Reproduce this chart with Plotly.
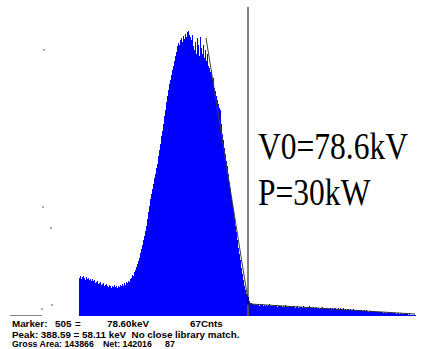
import plotly.graph_objects as go

# Spectrum counts per displayed bin (2 channels per bin), starting at channel 167
CHANNEL_START = 167
CHANNEL_STEP = 2
counts = [
    135,142,132,139,142,135,128,139,132,135,128,132,125,132,
    125,128,117,121,125,114,117,121,110,114,117,107,110,114,107,103,110,107,100,107,103,110,103,107,100,
    107,103,110,107,114,107,117,110,121,117,125,121,132,
    135,146,142,157,164,174,185,196,206,224,
    239,253,271,285,303,320,345,370,392,417,
    434,452,470,491,506,527,541,570,591,612,
    641,659,684,712,733,762,783,805,826,840,
    858,876,890,908,926,940,961,972,965,983,
    990,975,997,986,1004,993,1011,1015,1000,993,
    983,1000,961,947,975,933,990,965,926,993,
    954,933,965,918,947,908,933,890,883,869,
    876,840,847,812,801,783,769,755,740,733,
    684,648,627,598,577,552,534,506,477,456,
    427,399,374,349,320,299,271,242,221,199,
    171,150,128,107,93,78,71,67,53,46,
    48,44,41,40,43,39,38,41,37,40,
    38,42,36,39,37,40,35,38,41,36,
    37,35,39,34,36,38,33,37,35,34,
    36,33,35,32,38,34,33,31,35,32,
    34,31,33,36,30,32,34,29,33,31,
    32,30,34,29,31,33,28,30,37,29,
    30,28,31,29,27,32,28,30,26,29,
    28,31,27,29,26,28,30,25,28,27,
    26,29,25,27,28,24,26,28,23,27,
    25,24,27,23,26,22,25,24,21,24,
    23,21,24,22,20,23,21,19,22,20,
    21,19,18,21,17,20,18,16,19,17,
    18,16,15,17,14,16,15,13,15,14,
    13,15,12,14,12,11,13,11,12,10,
    11,10,12,9,10,8,10,9,8,9,
    8,7,8,6,7,6,7,5,6,5,
    5,4,4,3,2,
]
channels = [CHANNEL_START + CHANNEL_STEP * i for i in range(len(counts))]

marker_channel = 505
peak_fit_x = [421, 505]
peak_fit_y = [990, 57]
tail_fit_x = [507, 839]
tail_fit_y = [43, 7]
roi_x = [29, 93]
roi_y = [0, 0]
dots_x = [97, 95, 111, 93, 113]
dots_y = [947, 388, 313, 25, 39]

label_main = "V0=78.6kV"
label_power = "P=30kW"

fig = go.Figure()
fig.add_trace(go.Bar(x=channels, y=counts, width=CHANNEL_STEP,
                     marker=dict(color="#0000ff", line=dict(width=0)), hoverinfo="skip"))
fig.add_trace(go.Scatter(x=peak_fit_x, y=peak_fit_y, mode="lines",
                         line=dict(color="#404040", width=1)))
fig.add_trace(go.Scatter(x=tail_fit_x, y=tail_fit_y, mode="lines",
                         line=dict(color="#303030", width=1)))
fig.add_trace(go.Scatter(x=roi_x, y=roi_y, mode="lines",
                         line=dict(color="#606060", width=1.5)))
fig.add_trace(go.Scatter(x=dots_x, y=dots_y, mode="markers",
                         marker=dict(color="#909090", size=2)))

fig.add_shape(type="line", x0=marker_channel, x1=marker_channel, y0=0, y1=1,
              xref="x", yref="paper", line=dict(color="#000000", width=1))
fig.add_shape(type="line", x0=marker_channel, x1=marker_channel, y0=0, y1=40,
              xref="x", yref="y", line=dict(color="#c09030", width=1))

serif = "Liberation Serif, Times New Roman, serif"
fig.add_annotation(text=label_main, x=256/422, y=0.550, xref="paper", yref="paper",
                   xanchor="left", yanchor="middle", showarrow=False,
                   font=dict(family=serif, size=38, color="#000"))
fig.add_annotation(text=label_power, x=256/422, y=0.401, xref="paper", yref="paper",
                   xanchor="left", yanchor="middle", showarrow=False,
                   font=dict(family=serif, size=38, color="#000"))

sans = "Liberation Sans, Arial, sans-serif"
bottom = [
    ("<b>Marker:</b>", 10, -0.0227, 9.8), ("<b>505</b>", 53, -0.0227, 9.8),
    ("<b>=</b>", 73, -0.0227, 9.8),
    ("<b>78.60keV</b>", 105, -0.0227, 9.8), ("<b>67Cnts</b>", 188, -0.0227, 9.8),
    ("<b>Peak: 388.59 = 58.11 keV  No close library match.</b>", 10, -0.0583, 9.8),
    ("<b>Gross Area: 143866</b>", 10, -0.0906, 8.8), ("<b>Net: 142016</b>", 101, -0.0906, 8.8),
    ("<b>87</b>", 163, -0.0906, 8.8),
]
for txt, px, py, fs in bottom:
    fig.add_annotation(text=txt, x=px/422, y=py, xref="paper", yref="paper",
                       xanchor="left", yanchor="middle", showarrow=False,
                       font=dict(family=sans, size=fs, color="#000"))

fig.update_layout(
    width=422, height=349,
    margin=dict(l=0, r=0, t=7, b=33),
    paper_bgcolor="white", plot_bgcolor="white",
    showlegend=False, bargap=0, hovermode=False,
    xaxis=dict(visible=False, range=[9, 853]),
    yaxis=dict(visible=False, range=[0, 1100]),
)

post = """
document.body.style.margin = '0';
document.body.style.overflow = 'hidden';
var ts = document.querySelectorAll('g.annotation text.annotation-text');
ts.forEach(function(t){
  if (t.textContent.indexOf('V0=') === 0 || t.textContent.indexOf('P=30') === 0) {
    t.style.transformBox = 'fill-box';
    t.style.transformOrigin = 'left center';
    t.style.transform = 'scaleX(0.83)';
  }
});
"""
fig.write_html("out.html", post_script=post, config={"displayModeBar": False, "staticPlot": True})
